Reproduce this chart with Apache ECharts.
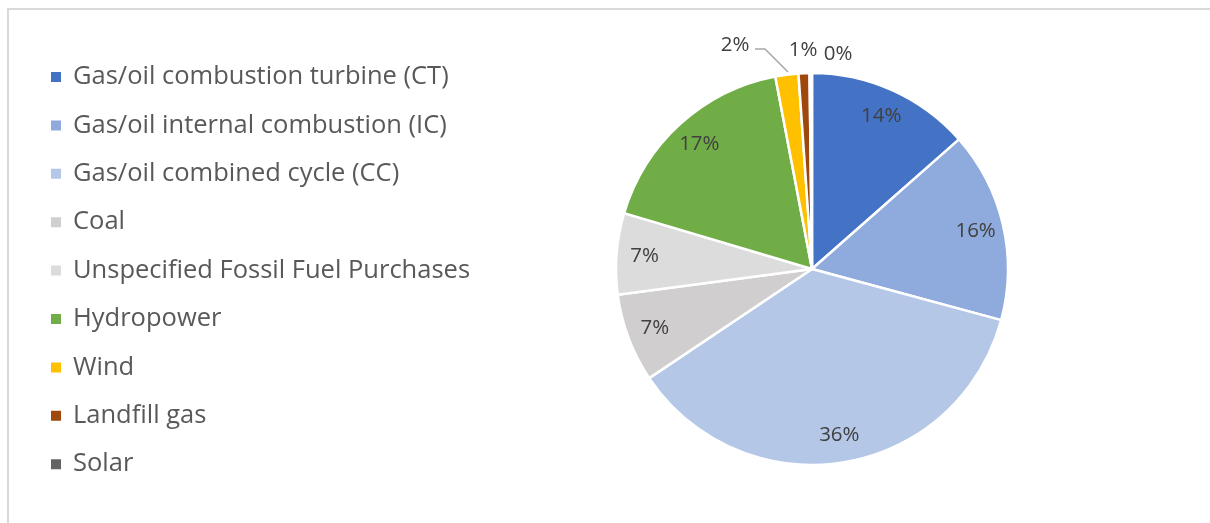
<!DOCTYPE html>
<html>
<head>
<meta charset="utf-8">
<script src="https://cdn.jsdelivr.net/npm/echarts@6/dist/echarts.min.js"></script>
<style>
  html, body { margin: 0; padding: 0; background: #fff; }
  #frame {
    position: absolute; left: 7px; top: 8px; width: 1203px; height: 515px;
    border-top: 2px solid #d9d9d9; border-left: 2px solid #d9d9d9;
  }
  #chart { position: absolute; left: 0; top: 0; width: 1210px; height: 523px; }
</style>
</head>
<body>
<div id="frame"></div>
<div id="chart"></div>
<script>
// fuel mix categories and shares (percent)
var sources = [
  'Gas/oil combustion turbine (CT)',
  'Gas/oil internal combustion (IC)',
  'Gas/oil combined cycle (CC)',
  'Coal',
  'Unspecified Fossil Fuel Purchases',
  'Hydropower',
  'Wind',
  'Landfill gas',
  'Solar'
];
var shares = [13.5, 15.7, 36.4, 7.3, 6.7, 17.4, 1.9, 0.9, 0.2];
var colors = ['#4472c4', '#8faadc', '#b4c7e7', '#d0cece', '#dcdcdc', '#70ad47', '#ffc000', '#9e480e', '#636363'];
// slices labelled outside the pie
var outsideLabels = ['Wind', 'Landfill gas', 'Solar'];

var CX = 812, CY = 269, R = 196;
// where the outside labels sit, as offsets from the pie centre
var outsidePos = {
  'Wind': { dx: -77, dy: -224, line: [[-24, -197], [-47, -220], [-57, -220]] },
  'Landfill gas': { dx: -9, dy: -219 },
  'Solar': { dx: 26, dy: -215 }
};

var chart = echarts.init(document.getElementById('chart'));

var pct = function (p) { return Math.round(p.percent) + '%'; };

var pieData = sources.map(function (name, i) {
  var item = { name: name, value: shares[i], itemStyle: { color: colors[i] } };
  if (outsideLabels.indexOf(name) >= 0) {
    item.label = { show: true, position: 'outside' };
    item.labelLine = { show: name === 'Wind' };
  }
  return item;
});

// transparent ring only used to put the inside labels near the rim
var ringData = sources.map(function (name, i) {
  return {
    name: name, value: shares[i],
    label: { show: outsideLabels.indexOf(name) < 0 }
  };
});

chart.setOption({
  animation: false,
  legend: {
    orient: 'vertical',
    left: 49,
    top: 64,
    padding: 0,
    itemWidth: 12,
    itemHeight: 12,
    itemGap: 22.4,
    icon: 'rect',
    data: sources,
    textStyle: {
      fontFamily: 'Open Sans',
      fontSize: 25.5,
      lineHeight: 25,
      color: '#595959',
      padding: [0, 0, 0, 6]
    }
  },
  series: [
    {
      type: 'pie',
      center: [CX, CY],
      radius: [0, R],
      startAngle: 90,
      clockwise: true,
      avoidLabelOverlap: false,
      silent: true,
      itemStyle: { borderColor: '#fff', borderWidth: 2.5 },
      label: {
        show: false,
        formatter: pct,
        fontFamily: 'Open Sans',
        fontSize: 20.5,
        color: '#404040'
      },
      labelLine: {
        length: 14,
        length2: 12,
        lineStyle: { color: '#a6a6a6', width: 1.5 }
      },
      labelLayout: function (params) {
        var pos = outsidePos[sources[params.dataIndex]];
        if (!pos) return {};
        var out = {
          x: CX + pos.dx, y: CY + pos.dy,
          align: 'center', verticalAlign: 'middle'
        };
        if (pos.line) {
          out.labelLinePoints = pos.line.map(function (p) { return [CX + p[0], CY + p[1]]; });
        }
        return out;
      },
      data: pieData
    },
    {
      type: 'pie',
      center: [CX, CY],
      radius: [134, R],
      startAngle: 90,
      clockwise: true,
      silent: true,
      itemStyle: { color: 'rgba(0,0,0,0)' },
      label: {
        position: 'inside',
        formatter: pct,
        fontFamily: 'Open Sans',
        fontSize: 20.5,
        color: '#404040'
      },
      labelLine: { show: false },
      data: ringData
    }
  ]
});
</script>
</body>
</html>
